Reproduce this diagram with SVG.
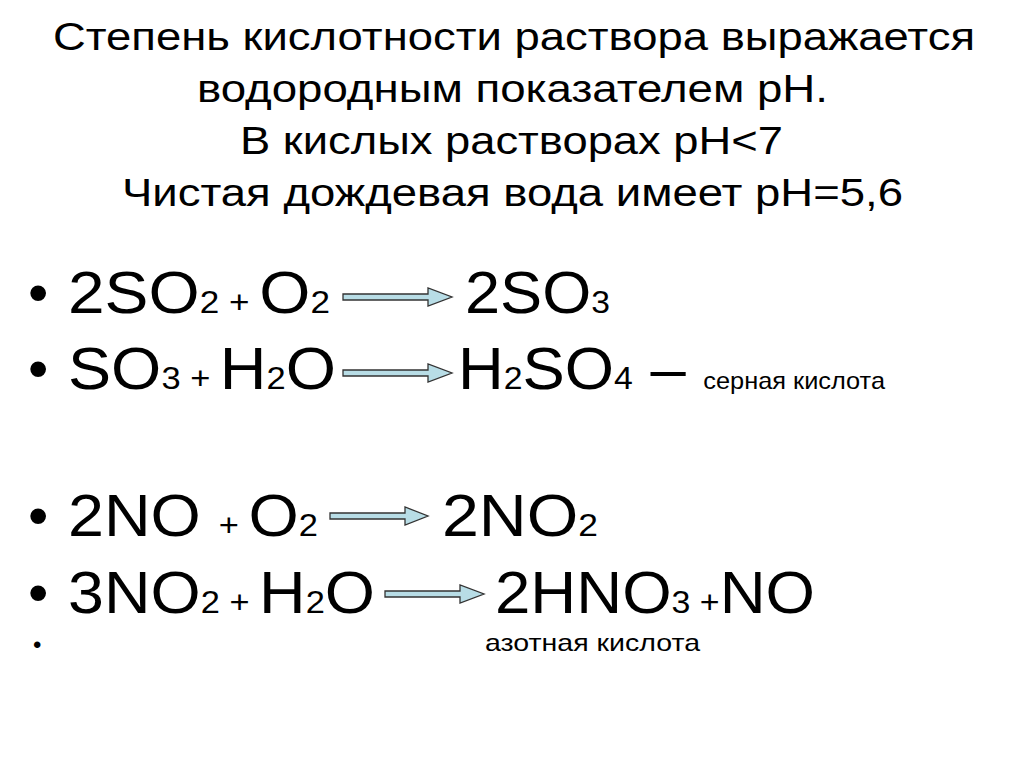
<svg xmlns="http://www.w3.org/2000/svg" width="1024" height="767" viewBox="0 0 1024 767">
<style>
text{font-family:"Liberation Sans",Arial,sans-serif;fill:#000}
.t{font-size:38px}
.b{font-size:60px}
.s{font-size:32px}
.c{font-size:24px}
.d{font-size:58px}
.ar{fill:#b8dde6;stroke:#333;stroke-width:1.3}
</style>
<rect width="1024" height="767" fill="#fff"/>
<g id="title">
<text class="t" x="53" y="50" textLength="922" lengthAdjust="spacingAndGlyphs">Степень кислотности раствора выражается</text>
<text class="t" x="197" y="102" textLength="631" lengthAdjust="spacingAndGlyphs">водородным показателем pH.</text>
<text class="t" x="240" y="154" textLength="543" lengthAdjust="spacingAndGlyphs">В кислых растворах pH&lt;7</text>
<text class="t" x="122" y="206" textLength="781" lengthAdjust="spacingAndGlyphs">Чистая дождевая вода имеет pH=5,6</text>
</g>
<g id="eq1">
<text class="d" x="28" y="312">•</text>
<text class="b" x="68" y="313" textLength="262" lengthAdjust="spacingAndGlyphs">2SO<tspan class="s">2 + </tspan>O<tspan class="s">2</tspan></text>
<text class="b" x="465" y="313" textLength="145" lengthAdjust="spacingAndGlyphs">2SO<tspan class="s">3</tspan></text>
</g>
<g id="eq2">
<text class="d" x="28" y="388">•</text>
<text class="b" x="68" y="389" textLength="268" lengthAdjust="spacingAndGlyphs">SO<tspan class="s">3 + </tspan>H<tspan class="s">2</tspan>O</text>
<text class="b" x="458" y="389" textLength="427" lengthAdjust="spacingAndGlyphs">H<tspan class="s">2</tspan>SO<tspan class="s">4</tspan> – <tspan class="c">серная кислота</tspan></text>
</g>
<g id="eq3">
<text class="d" x="28" y="535">•</text>
<text class="b" x="68" y="536" textLength="250" lengthAdjust="spacingAndGlyphs">2NO <tspan class="s">+ </tspan>O<tspan class="s">2</tspan></text>
<text class="b" x="442" y="536" textLength="156" lengthAdjust="spacingAndGlyphs">2NO<tspan class="s">2</tspan></text>
</g>
<g id="eq4">
<text class="d" x="28" y="612">•</text>
<text class="b" x="68" y="613" textLength="307" lengthAdjust="spacingAndGlyphs">3NO<tspan class="s">2 + </tspan>H<tspan class="s">2</tspan>O</text>
<text class="b" x="495" y="613" textLength="320" lengthAdjust="spacingAndGlyphs">2HNO<tspan class="s">3 +</tspan>NO</text>
</g>
<g id="eq5">
<text class="c" x="33" y="653">•</text>
<text class="c" x="485" y="651" textLength="215" lengthAdjust="spacingAndGlyphs">азотная кислота</text>
</g>
<g id="connectors">
<path class="ar" d="M343,294 H428 V288 L452,297 L428,306 V300 H343 Z"/>
<path class="ar" d="M343,370 H428 V364 L452,373 L428,382 V376 H343 Z"/>
<path class="ar" d="M330,513 H405 V507 L428,516 L405,525 V519 H330 Z"/>
<path class="ar" d="M385,591 H460 V585 L484,594 L460,603 V597 H385 Z"/>
</g>
</svg>
